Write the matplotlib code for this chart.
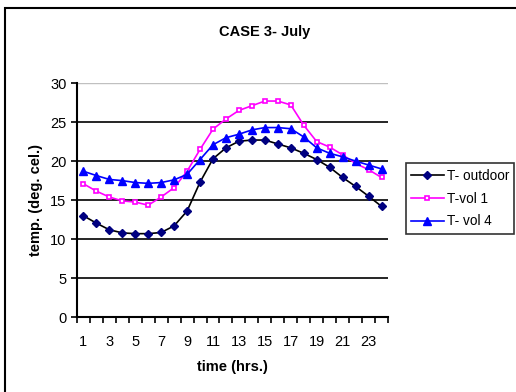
import matplotlib.pyplot as plt
from matplotlib.patches import Rectangle
import numpy as np

plt.rcParams['font.family'] = ['Liberation Sans', 'DejaVu Sans']

# Data
hours = list(range(1, 25))
t_outdoor = [13.0, 12.05, 11.2, 10.8, 10.7, 10.7, 10.85, 11.7, 13.6, 17.3, 20.3, 21.7,
             22.55, 22.7, 22.7, 22.2, 21.7, 21.0, 20.2, 19.2, 17.9, 16.75, 15.5, 14.2]
t_vol1 = [17.1, 16.15, 15.4, 14.9, 14.75, 14.35, 15.4, 16.6, 18.7, 21.5, 24.1, 25.4,
          26.5, 27.1, 27.7, 27.7, 27.2, 24.6, 22.5, 21.8, 20.8, 19.7, 18.9, 17.9]
t_vol4 = [18.7, 18.15, 17.65, 17.5, 17.25, 17.15, 17.25, 17.6, 18.3, 20.2, 22.1, 23.0,
          23.45, 24.0, 24.3, 24.3, 24.15, 23.1, 21.7, 21.0, 20.55, 20.0, 19.5, 19.0]

fig = plt.figure(figsize=(5.16, 3.92), dpi=100)
ax = fig.add_axes([0.149, 0.191, 0.603, 0.597])

x = np.arange(len(hours))
ax.plot(x, t_outdoor, color='black', lw=1.2, marker='D', ms=4.5,
        mfc='#000080', mec='#000080', label='T- outdoor')
ax.plot(x, t_vol1, color='#ff00ff', lw=1.2, marker='s', ms=3.5,
        mfc='white', mec='#ff00ff', mew=1.2, label='T-vol 1')
ax.plot(x, t_vol4, color='#0000ff', lw=1.2, marker='^', ms=5.5,
        mfc='#0000ff', mec='#0000ff', label='T- vol 4')

# Axes and grid
ax.set_xlim(-0.5, 23.5)
ax.set_ylim(0, 30)
ax.set_yticks(range(0, 31, 5))
for v in range(5, 30, 5):
    ax.axhline(v, color='black', lw=1.2, zorder=0)
ax.axhline(30, color='#c0c0c0', lw=1, zorder=0)

ax.set_xticks(x[::2])
ax.set_xticklabels([str(h) for h in hours[::2]])
ax.set_xticks(np.arange(-0.5, 24, 1), minor=True)
ax.tick_params(axis='x', which='major', length=0, pad=13, labelsize=10.5)
ax.tick_params(axis='x', which='minor', length=4, width=1.2, direction='out')
ax.tick_params(axis='y', length=4, width=1.2, direction='out', labelsize=10.5)

for s in ['top', 'right']:
    ax.spines[s].set_visible(False)
for s in ['left', 'bottom']:
    ax.spines[s].set_linewidth(1.5)

ax.set_xlabel('time (hrs.)', fontsize=10.5, fontweight='bold', labelpad=8)
ax.set_ylabel('temp. (deg. cel.)', fontsize=10.5, fontweight='bold', labelpad=5)
fig.text(0.512, 0.918, 'CASE 3- July', ha='center', va='center',
         fontsize=10.5, fontweight='bold')

leg = fig.legend(loc='center', bbox_to_anchor=(0.785, 0.395, 0.213, 0.197),
                 fontsize=9.8, frameon=True, fancybox=False, handlelength=2.4,
                 handletextpad=0.2, borderpad=0.4, labelspacing=0.65,
                 borderaxespad=0)
leg.get_frame().set_edgecolor('black')
leg.get_frame().set_linewidth(1.2)

# Chart frame
fig.patches.append(Rectangle((5 / 516, -0.02), 1.1, 384 / 392 + 0.02,
                             transform=fig.transFigure, fill=False,
                             edgecolor='black', lw=1.5))

fig.savefig('out.png', dpi=100)
